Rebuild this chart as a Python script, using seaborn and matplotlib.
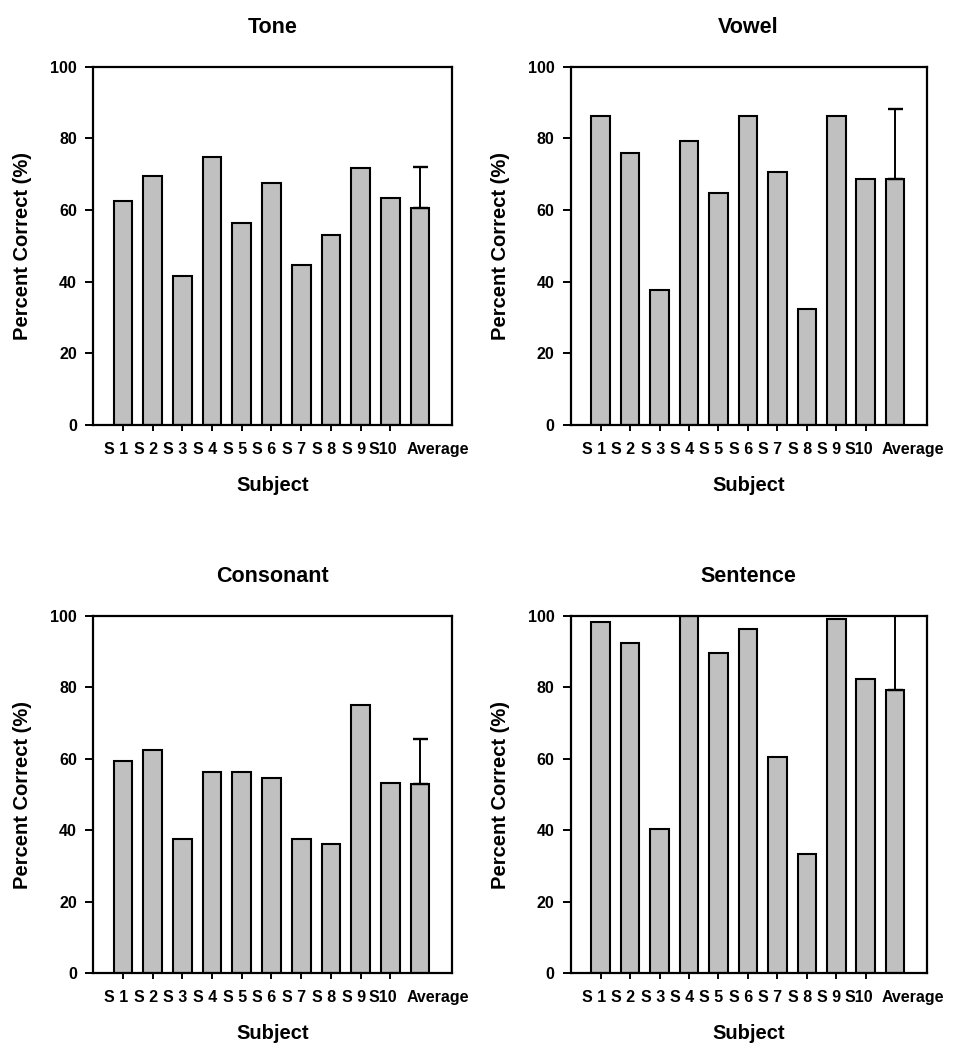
import numpy as np
import pandas as pd
import seaborn as sns
import matplotlib.pyplot as plt
from matplotlib.transforms import ScaledTranslation

subjects = ["S 1", "S 2", "S 3", "S 4", "S 5", "S 6", "S 7", "S 8", "S 9", "S10", "Average"]

tone = [62.5, 69.6, 41.6, 74.9, 56.3, 67.6, 44.8, 53.0, 71.8, 63.4, 60.5]
vowel = [86.2, 75.8, 37.7, 79.3, 64.7, 86.2, 70.7, 32.4, 86.2, 68.7, 68.8]
consonant = [59.5, 62.4, 37.6, 56.3, 56.3, 54.7, 37.6, 36.1, 75.0, 53.3, 53.0]
sentence = [98.2, 92.3, 40.3, 100.0, 89.7, 96.4, 60.6, 33.4, 99.2, 82.3, 79.2]

# upper error (SD) on the Average bar only
avg_sd = {"Tone": 11.4, "Vowel": 19.4, "Consonant": 12.4, "Sentence": 22.0}

panels = [("Tone", tone), ("Vowel", vowel), ("Consonant", consonant), ("Sentence", sentence)]

# axes rectangles in figure fractions (left, bottom, width, height)
rects = {
    "Tone": [0.0952, 0.5952, 0.3686, 0.3412],
    "Vowel": [0.5859, 0.5952, 0.3655, 0.3412],
    "Consonant": [0.0952, 0.0730, 0.3686, 0.3406],
    "Sentence": [0.5859, 0.0730, 0.3655, 0.3406],
}


def configure_plot():
    sns.set_style("ticks")
    plt.rcParams["font.family"] = ["Liberation Sans", "DejaVu Sans"]
    plt.rcParams["font.weight"] = "bold"
    plt.rcParams["axes.labelweight"] = "bold"
    plt.rcParams["axes.titleweight"] = "bold"
    plt.rcParams["text.color"] = "black"
    plt.rcParams["axes.labelcolor"] = "black"


def main():
    configure_plot()
    fig = plt.figure(figsize=(9.74, 10.5), dpi=100)

    for name, vals in panels:
        ax = fig.add_axes(rects[name])
        df = pd.DataFrame({"subject": subjects, "score": vals})
        sns.barplot(data=df, x="subject", y="score", order=subjects, color="#c0c0c0",
                    saturation=1, edgecolor="black", linewidth=1.5, width=0.63,
                    errorbar=None, ax=ax)

        i_avg = subjects.index("Average")
        ax.errorbar([i_avg], [vals[i_avg]], yerr=[[0], [avg_sd[name]]], fmt="none",
                    ecolor="black", elinewidth=1.4, capsize=5.4, capthick=1.7, zorder=3)

        ax.set_xlim(-1.02, 11.07)
        ax.set_ylim(0, 100)
        ax.set_yticks(np.arange(0, 101, 20))
        for s in ax.spines.values():
            s.set_visible(True)
            s.set_linewidth(1.6)
            s.set_color("black")
            s.set_zorder(4)

        ax.tick_params(axis="y", direction="out", length=5.5, width=1.4, pad=6,
                       labelsize=11.5, colors="black")
        ax.tick_params(axis="x", direction="out", length=4.5, width=1.4, pad=7.5,
                       labelsize=11.5, colors="black")
        for lab in ax.get_yticklabels() + ax.get_xticklabels():
            lab.set_fontweight("bold")
        ax.xaxis.get_major_ticks()[-1].tick1line.set_visible(False)

        # nudge tick labels the way the original layout spaces them
        for lab in ax.get_xticklabels():
            dx = 13 / 72 if lab.get_text() == "Average" else -5 / 72
            lab.set_transform(lab.get_transform() + ScaledTranslation(dx, 0, fig.dpi_scale_trans))

        ax.set_title(name, fontsize=15.5, fontweight="bold", pad=24, color="black")
        ax.set_xlabel("Subject", fontsize=14.5, fontweight="bold", va="center")
        ax.set_ylabel("Percent Correct (%)", fontsize=14.5, fontweight="bold", va="center")
        ax.xaxis.set_label_coords(0.5, -60 / 358)
        ax.yaxis.set_label_coords(-70.5 / 359, 0.5)

    fig.savefig("out.png", dpi=100, facecolor="white")


if __name__ == "__main__":
    main()
